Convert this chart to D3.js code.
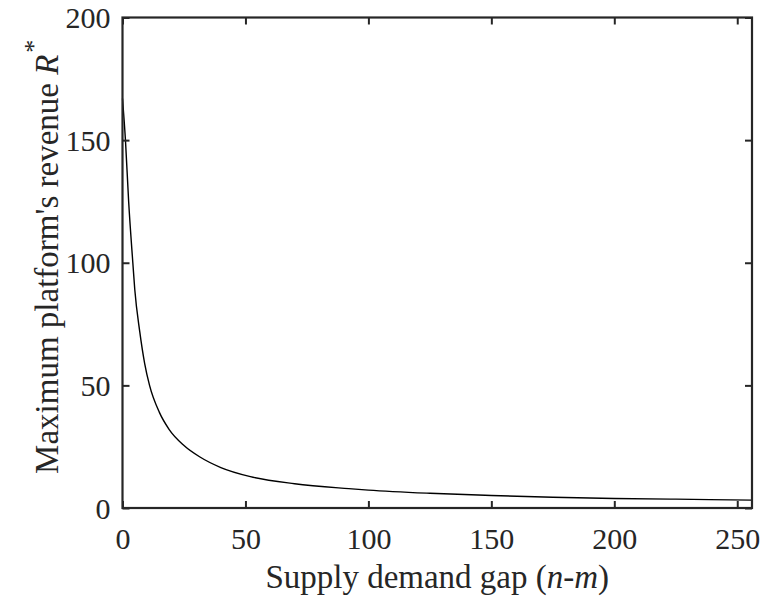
<!DOCTYPE html>
<html>
<head>
<meta charset="utf-8">
<script src="https://cdn.jsdelivr.net/npm/d3@7"></script>
<style>
  body { margin: 0; background: #fff; }
  svg text { font-family: 'Liberation Serif', 'Times New Roman', Tinos, 'DejaVu Serif', serif !important; fill: #262626; }
</style>
</head>
<body>
<div id="chart"></div>
<script>
// curve: supply demand gap vs max revenue
const gap = [0, 1.2, 2.5, 4.2, 5, 7, 9, 11, 15, 19, 25, 31.5, 40, 52, 70, 92, 100, 125, 150, 175, 200, 225, 256];
const revenue = [167, 150, 125, 100, 89, 72, 59, 50, 39, 32, 25.5, 20.8, 16.5, 12.8, 9.9, 7.9, 7.3, 6.0, 5.1, 4.4, 3.9, 3.6, 3.2];
const xTicks = [0, 50, 100, 150, 200, 250];
const yTicks = [0, 50, 100, 150, 200];

const width = 762, height = 602;
const margin = { top: 17.5, right: 10, bottom: 94, left: 122.5 };
const innerW = width - margin.left - margin.right;
const innerH = height - margin.top - margin.bottom;

const svg = d3.select("#chart")
  .append("svg")
  .attr("width", width)
  .attr("height", height);

const g = svg.append("g")
  .attr("transform", `translate(${margin.left},${margin.top})`);

const x = d3.scaleLinear().domain([0, 256]).range([0, innerW]);
const y = d3.scaleLinear().domain([0, 200]).range([innerH, 0]);

const points = gap.map((d, i) => [d, revenue[i]]);

// curve
g.append("path")
  .datum(points)
  .attr("fill", "none")
  .attr("stroke", "#000")
  .attr("stroke-width", 1.4)
  .attr("d", d3.line()
    .x(d => x(d[0]))
    .y(d => y(d[1]))
    .curve(d3.curveMonotoneX));

const tickLen = 7;

// bottom axis
const xAxis = g.append("g")
  .attr("transform", `translate(0,${innerH})`)
  .call(d3.axisBottom(x).tickValues(xTicks).tickSize(-tickLen).tickPadding(20));
// top axis (ticks only)
const xTop = g.append("g")
  .call(d3.axisTop(x).tickValues(xTicks).tickSize(-tickLen).tickFormat(""));
// left axis
const yAxis = g.append("g")
  .call(d3.axisLeft(y).tickValues(yTicks).tickSize(-tickLen).tickPadding(12));
// right axis (ticks only)
const yRight = g.append("g")
  .attr("transform", `translate(${innerW},0)`)
  .call(d3.axisRight(y).tickValues(yTicks).tickSize(-tickLen).tickFormat(""));

[xAxis, xTop, yAxis, yRight].forEach(a => {
  a.attr("font-family", null);
  a.select(".domain").remove();
  a.selectAll(".tick line").attr("stroke", "#262626").attr("stroke-width", 2);
  a.selectAll(".tick text")
    .attr("font-size", 30)
    .attr("fill", "#262626");
});
yAxis.selectAll(".tick text").attr("dy", "0.34em");

// box
g.append("rect")
  .attr("width", innerW)
  .attr("height", innerH)
  .attr("fill", "none")
  .attr("stroke", "#262626")
  .attr("stroke-width", 2.2);

// x label
const xl = svg.append("text")
  .attr("x", margin.left + innerW / 2)
  .attr("y", 588)
  .attr("text-anchor", "middle")
  .attr("font-size", 33);
xl.append("tspan").text("Supply demand gap (");
xl.append("tspan").attr("font-style", "italic").text("n-m");
xl.append("tspan").text(")");

// y label
const yl = svg.append("text")
  .attr("transform", `translate(58,${margin.top + innerH / 2 - 6}) rotate(-90)`)
  .attr("text-anchor", "middle")
  .attr("font-size", 33);
yl.append("tspan").text("Maximum platform's revenue ");
yl.append("tspan").attr("font-style", "italic").text("R");
yl.append("tspan").attr("dy", -16).attr("dx", 2).attr("font-size", 26).text("*");
</script>
</body>
</html>
